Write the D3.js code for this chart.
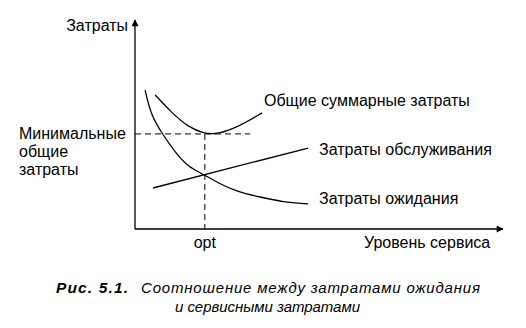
<!DOCTYPE html>
<html>
<head>
<meta charset="utf-8">
<script src="https://cdn.jsdelivr.net/npm/d3@7"></script>
<style>
  body { margin: 0; background: #fff; }
  text { font-family: "Liberation Sans", Arial, sans-serif; fill: #000; }
</style>
</head>
<body>
<svg id="chart" width="526" height="328"></svg>
<script>
// service level (x) vs cost (y), both 0..100
var waitX = [2.8, 4.4, 7.8, 11.1, 14.7, 19.4, 23.1, 28.6, 34.7, 41.1, 48.1];
var waitY = [68.1, 55.9, 46.1, 37.7, 30.4, 26.5, 22.5, 18.1, 15.7, 13.2, 12.3];
var serviceX = [5, 48.1];
var serviceY = [20.1, 39.7];
var totalX = [5.6, 10, 14.7, 19.4, 23.1, 28.6, 35.3];
var totalY = [65.7, 57.4, 50, 46.6, 46.6, 50, 56.9];
var optX = 19.4, minCost = 46.6;

var svg = d3.select("#chart");

var x = d3.scaleLinear().domain([0, 100]).range([135, 495]);
var y = d3.scaleLinear().domain([0, 100]).range([229, 25]);

var line = d3.line()
	.x(function(d) { return x(d[0]); })
	.y(function(d) { return y(d[1]); })
	.curve(d3.curveBasis);

function pts(xs, ys) { return xs.map(function(v, i) { return [v, ys[i]]; }); }

// arrow heads
svg.append("defs").append("marker")
	.attr("id", "arrow")
	.attr("viewBox", "0 0 10 10")
	.attr("refX", 9).attr("refY", 5)
	.attr("markerWidth", 9).attr("markerHeight", 7)
	.attr("markerUnits", "userSpaceOnUse")
	.attr("orient", "auto")
	.append("path")
	.attr("d", "M0,0L10,5L0,10Z")
	.attr("fill", "#000");

// axes
svg.append("line")
	.attr("x1", x(0)).attr("y1", y(0))
	.attr("x2", x(0)).attr("y2", 20)
	.attr("stroke", "#000").attr("stroke-width", 1.3)
	.attr("marker-end", "url(#arrow)");
svg.append("line")
	.attr("x1", x(0)).attr("y1", y(0))
	.attr("x2", 503).attr("y2", y(0))
	.attr("stroke", "#000").attr("stroke-width", 1.3)
	.attr("marker-end", "url(#arrow)");

// dashed guides
svg.append("line")
	.attr("x1", x(0)).attr("y1", y(minCost))
	.attr("x2", x(32)).attr("y2", y(minCost))
	.attr("stroke", "#000").attr("stroke-width", 1)
	.attr("stroke-dasharray", "6,4");
svg.append("line")
	.attr("x1", x(optX)).attr("y1", y(minCost))
	.attr("x2", x(optX)).attr("y2", y(0))
	.attr("stroke", "#000").attr("stroke-width", 1)
	.attr("stroke-dasharray", "6,4");

// curves
[pts(waitX, waitY), pts(serviceX, serviceY), pts(totalX, totalY)].forEach(function(d) {
	svg.append("path")
		.datum(d)
		.attr("d", line)
		.attr("fill", "none")
		.attr("stroke", "#000")
		.attr("stroke-width", 1.3);
});

// labels
function label(t, px, py, anchor) {
	return svg.append("text")
		.attr("x", px).attr("y", py)
		.attr("font-size", "16px")
		.attr("text-anchor", anchor || "start")
		.text(t);
}
label("Затраты", 128, 31, "end");
label("Общие суммарные затраты", 264, 106);
label("Затраты обслуживания", 319, 155);
label("Затраты ожидания", 319, 204);
label("Минимальные", 19, 139);
label("общие", 19, 157);
label("затраты", 19, 175);
label("opt", x(optX), 248, "middle");
label("Уровень сервиса", 364, 248);

// caption
svg.append("text")
	.attr("x", 56).attr("y", 293)
	.attr("font-size", "15.5px")
	.attr("font-style", "italic")
	.attr("font-weight", "bold")
	.attr("textLength", 72)
	.attr("lengthAdjust", "spacing")
	.text("Рис. 5.1.");
svg.append("text")
	.attr("x", 141).attr("y", 293)
	.attr("font-size", "15px")
	.attr("font-style", "italic")
	.attr("textLength", 339)
	.attr("lengthAdjust", "spacing")
	.text("Соотношение между затратами ожидания");
svg.append("text")
	.attr("x", 175).attr("y", 312)
	.attr("font-size", "15px")
	.attr("font-style", "italic")
	.attr("textLength", 185)
	.attr("lengthAdjust", "spacing")
	.text("и сервисными затратами");
</script>
</body>
</html>
